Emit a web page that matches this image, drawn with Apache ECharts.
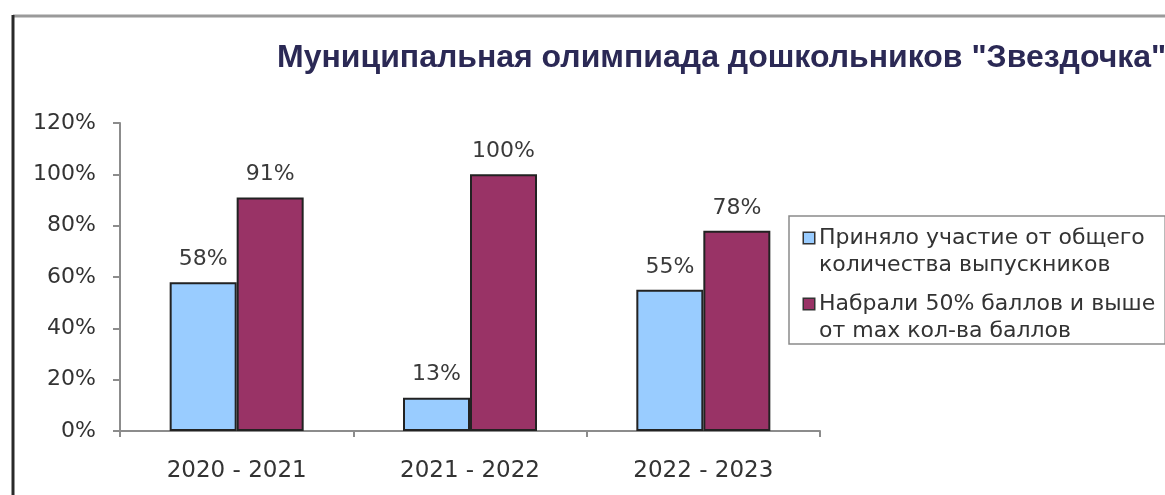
<!DOCTYPE html>
<html>
<head>
<meta charset="utf-8">
<script src="https://cdn.jsdelivr.net/npm/echarts@6/dist/echarts.min.js"></script>
<style>
html,body{margin:0;padding:0;background:#fff;}
#chart{width:1165px;height:495px;}
</style>
</head>
<body>
<div id="chart"></div>
<script>
const titleText = 'Муниципальная олимпиада дошкольников "Звездочка"';
const categories = ['2020 - 2021', '2021 - 2022', '2022 - 2023'];
const seriesNames = ['Приняло участие от общего\nколичества выпускников', 'Набрали 50% баллов и выше\nот max кол-ва баллов'];
const participated = [58, 13, 55];
const scored50 = [91, 100, 78];
const yTicks = [0, 20, 40, 60, 80, 100, 120];

const colors = ['#99CCFF', '#993366'];
const font = 'DejaVu Sans';

const chart = echarts.init(document.getElementById('chart'), null, {renderer: 'canvas'});

const labelCfg = {
  show: true, position: 'top', distance: 12,
  formatter: '{c}%', color: '#3a3a3a', fontFamily: font, fontSize: 22
};

const legendText = {fontFamily: font, fontSize: 22, lineHeight: 27, color: '#333'};

chart.setOption({
  backgroundColor: '#ffffff',
  animation: false,
  title: {
    text: titleText,
    left: 277, top: 42, padding: 0,
    textStyle: {fontFamily: 'Liberation Sans', fontWeight: 'bold', fontSize: 32, color: '#2b2955'}
  },
  graphic: [
    {type: 'line', shape: {x1: 13, y1: 16, x2: 1165, y2: 16}, style: {stroke: '#9a9a9a', lineWidth: 3}},
    {type: 'line', shape: {x1: 13, y1: 15, x2: 13, y2: 495}, style: {stroke: '#2a2a2a', lineWidth: 3}}
  ],
  legend: {
    left: 789, top: 216,
    orient: 'vertical',
    icon: 'none',
    itemWidth: 0, itemHeight: 10,
    itemGap: 17,
    padding: [11, 10, 2, 10],
    borderColor: '#8a8a8a', borderWidth: 1.5,
    backgroundColor: '#fff',
    selectedMode: false,
    data: seriesNames,
    formatter: function (name) {
      const i = seriesNames.indexOf(name);
      const lines = name.split('\n');
      return '{m' + i + '|}{t|' + lines[0] + '}\n{s|' + lines[1] + '}';
    },
    textStyle: {
      fontFamily: font, fontSize: 22, color: '#333',
      rich: {
        m0: {width: 10, height: 10, backgroundColor: colors[0], borderColor: '#333', borderWidth: 1.5},
        m1: {width: 10, height: 10, backgroundColor: colors[1], borderColor: '#333', borderWidth: 1.5},
        t: Object.assign({padding: [0, 0, 0, 5]}, legendText),
        s: Object.assign({padding: [0, 0, 0, 15]}, legendText)
      }
    }
  },
  grid: {left: 120, top: 123, width: 700, height: 308},
  xAxis: {
    type: 'category',
    data: categories,
    axisLine: {lineStyle: {color: '#8c8c8c', width: 2}},
    axisTick: {show: true, length: 6, lineStyle: {color: '#8c8c8c', width: 2}},
    axisLabel: {color: '#333', fontFamily: font, fontSize: 23, margin: 29}
  },
  yAxis: {
    type: 'value',
    min: 0, max: 120, interval: 20,
    axisLine: {show: true, lineStyle: {color: '#8c8c8c', width: 2}},
    axisTick: {show: true, length: 7, lineStyle: {color: '#8c8c8c', width: 2}},
    splitLine: {show: false},
    axisLabel: {
      color: '#333', fontFamily: font, fontSize: 22, margin: 24,
      formatter: function (v) { return yTicks.indexOf(v) >= 0 ? v + '%' : ''; }
    }
  },
  series: [
    {
      name: seriesNames[0], type: 'bar', data: participated,
      barWidth: 67, barGap: '0%',
      itemStyle: {color: colors[0], borderColor: '#222', borderWidth: 2},
      label: labelCfg
    },
    {
      name: seriesNames[1], type: 'bar', data: scored50,
      barWidth: 67, barGap: '0%',
      itemStyle: {color: colors[1], borderColor: '#222', borderWidth: 2},
      label: labelCfg
    }
  ]
});
</script>
</body>
</html>
